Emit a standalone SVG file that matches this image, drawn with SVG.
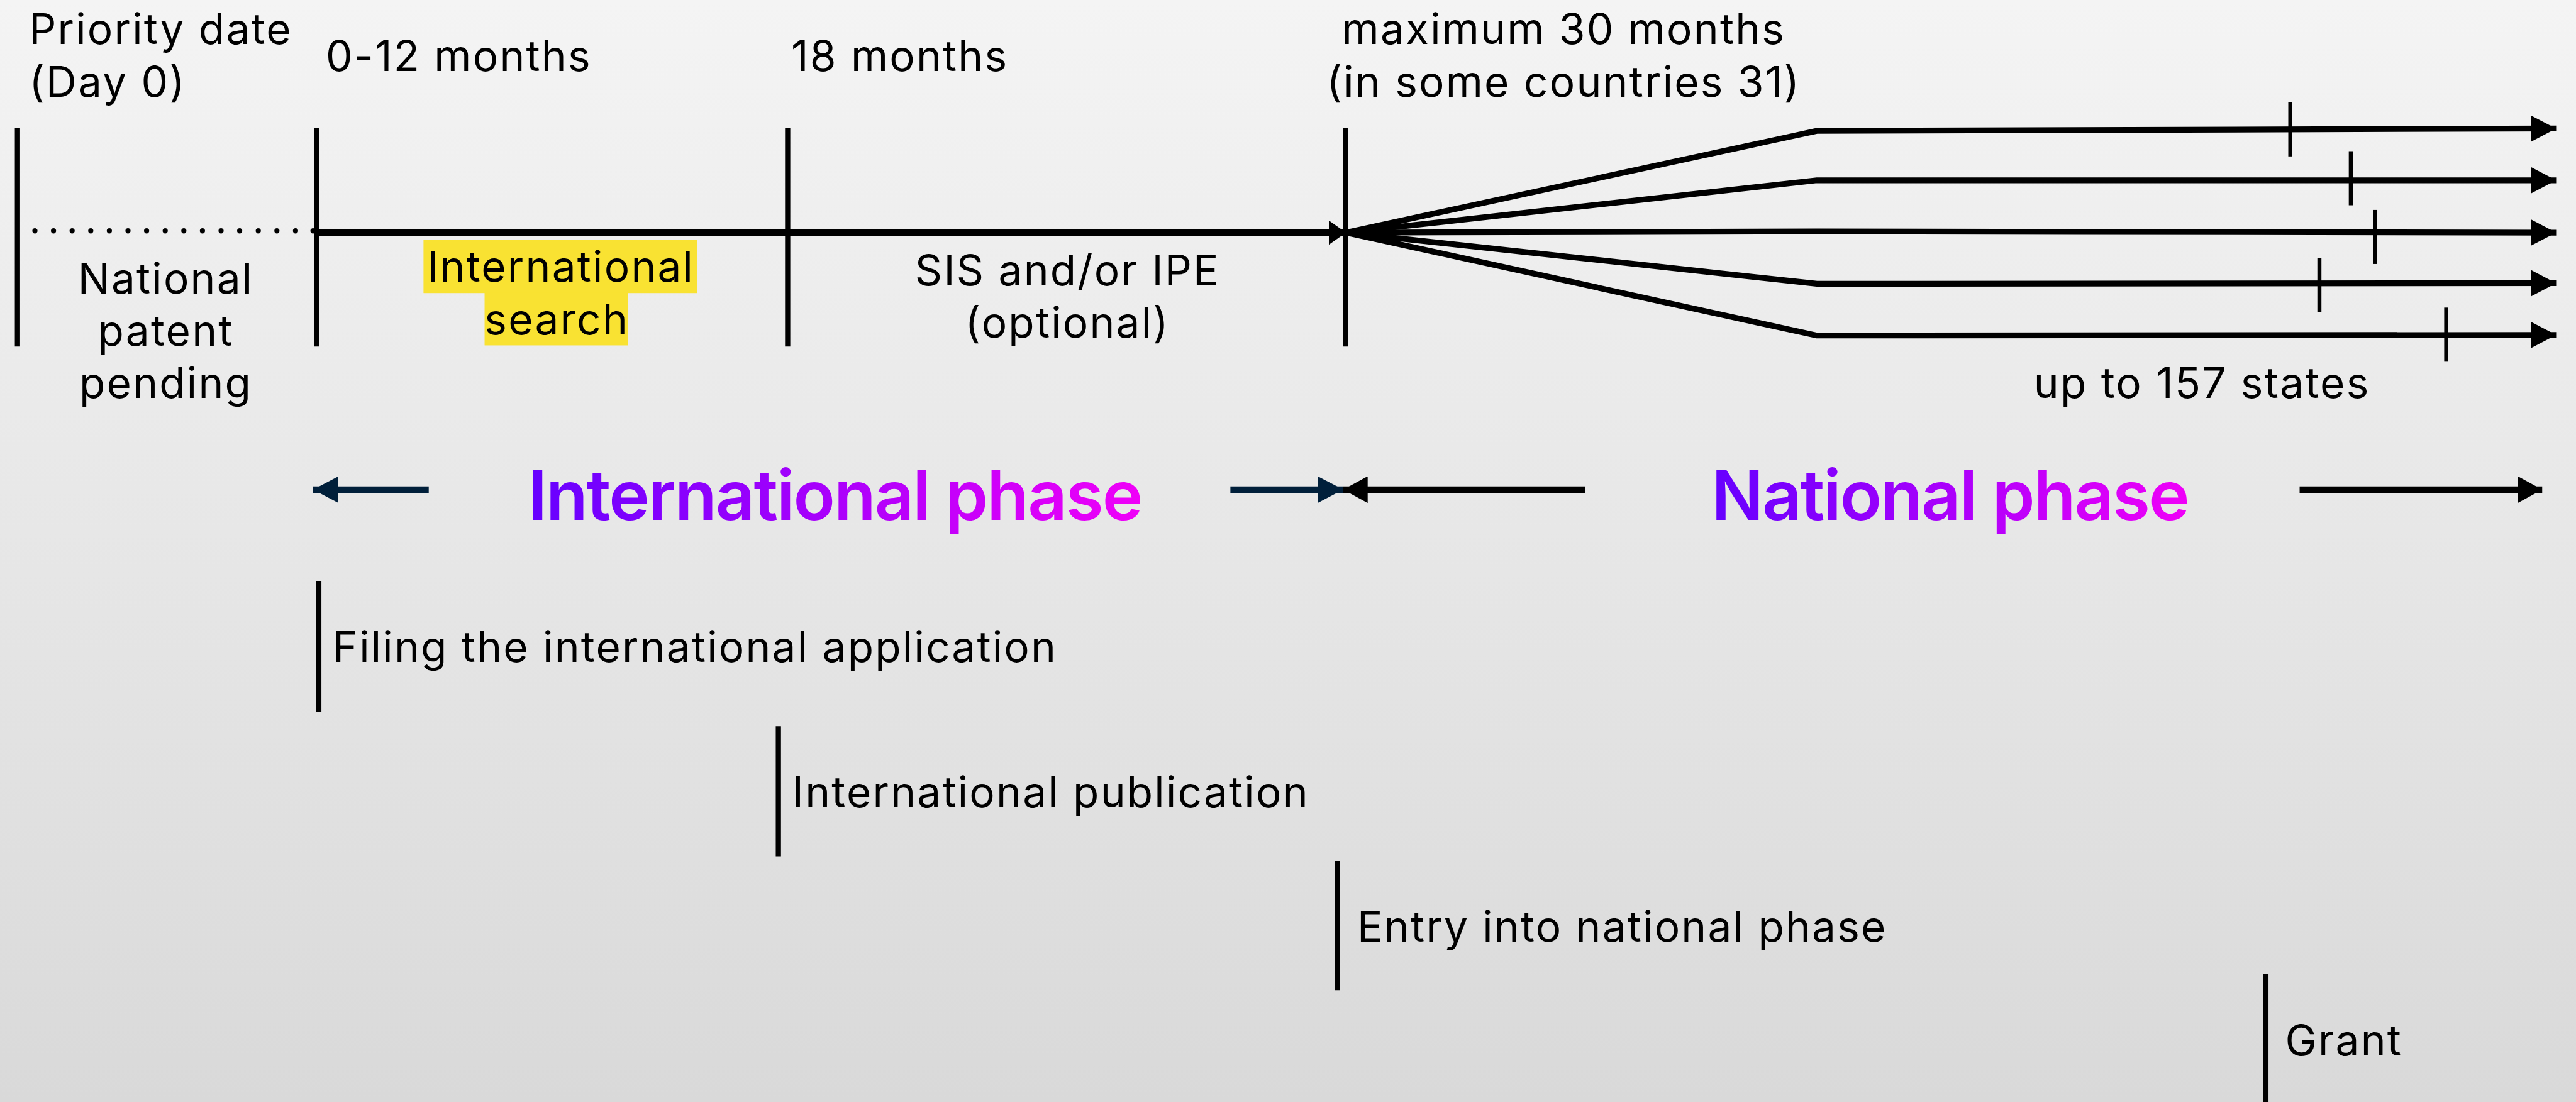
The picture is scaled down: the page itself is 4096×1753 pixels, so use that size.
<svg xmlns="http://www.w3.org/2000/svg" width="4096" height="1753" viewBox="0 0 4096 1753">
<defs>
<linearGradient id="bg" x1="0" y1="0" x2="0" y2="1">
<stop offset="0" stop-color="#F4F4F4"/>
<stop offset="1" stop-color="#D9D9D9"/>
</linearGradient>
<linearGradient id="phase" x1="0" y1="0" x2="1" y2="0">
<stop offset="0" stop-color="#6600FF"/>
<stop offset="1" stop-color="#F000F8"/>
</linearGradient>
<marker id="headB" viewBox="0 0 44 46" refX="44" refY="23" markerWidth="44" markerHeight="46" markerUnits="userSpaceOnUse" orient="auto">
<path d="M0,0 L44,23 L0,46 Z" fill="#000"/>
</marker>
<marker id="headS" viewBox="0 0 30 42" refX="30" refY="21" markerWidth="30" markerHeight="42" markerUnits="userSpaceOnUse" orient="auto">
<path d="M0,0 L30,21 L0,42 Z" fill="#000"/>
</marker>
<marker id="headN" viewBox="0 0 44 46" refX="44" refY="23" markerWidth="44" markerHeight="46" markerUnits="userSpaceOnUse" orient="auto-start-reverse">
<path d="M0,0 L44,23 L0,46 Z" fill="#001F3A"/>
</marker>
<marker id="headNB" viewBox="0 0 42 46" refX="42" refY="23" markerWidth="42" markerHeight="46" markerUnits="userSpaceOnUse" orient="auto-start-reverse">
<path d="M0,0 L42,23 L0,46 Z" fill="#000"/>
</marker>
</defs>
<style>
.t{font-family:Inter,"Liberation Sans",sans-serif;font-size:73px;letter-spacing:2.4px;fill:#000}
.c{text-anchor:middle}
.ph{font-family:Inter,"Liberation Sans",sans-serif;font-size:118px;font-weight:600;letter-spacing:-2.2px;fill:url(#phase)}
.ln{stroke:#000;stroke-width:9;fill:none}
.thick{stroke:#000;stroke-width:10;fill:none}
.tick{stroke:#000;stroke-width:7;fill:none}
.nav{stroke:#001F3A;stroke-width:11;fill:none}
.blk{stroke:#000;stroke-width:11;fill:none}
</style>
<rect x="0" y="0" width="4096" height="1753" fill="url(#bg)"/>
<g transform="scale(0.925)">
<g id="timeline-markers">
<line class="ln" x1="30" y1="220" x2="30" y2="596"/>
<line class="ln" x1="544" y1="220" x2="544" y2="596"/>
<line class="ln" x1="1354" y1="220" x2="1354" y2="596"/>
<line class="ln" x1="2313" y1="220" x2="2313" y2="596"/>
</g>
<g id="connectors">
<g fill="#000">
<circle cx="60" cy="397" r="4.5"/><circle cx="92" cy="397" r="4.5"/><circle cx="124" cy="397" r="4.5"/><circle cx="156" cy="397" r="4.5"/><circle cx="188" cy="397" r="4.5"/><circle cx="220" cy="397" r="4.5"/><circle cx="252" cy="397" r="4.5"/><circle cx="284" cy="397" r="4.5"/><circle cx="316" cy="397" r="4.5"/><circle cx="348" cy="397" r="4.5"/><circle cx="380" cy="397" r="4.5"/><circle cx="412" cy="397" r="4.5"/><circle cx="444" cy="397" r="4.5"/><circle cx="476" cy="397" r="4.5"/><circle cx="508" cy="397" r="4.5"/><circle cx="538" cy="397" r="4.5"/>
</g>
<line class="blk" x1="544" y1="400" x2="2314" y2="400" marker-end="url(#headS)"/>
<polyline class="thick" points="2314,400 3123,225 4394,221" marker-end="url(#headB)"/>
<polyline class="thick" points="2314,400 3123,310 4394,310" marker-end="url(#headB)"/>
<polyline class="thick" points="2314,400 3123,398 4394,400" marker-end="url(#headB)"/>
<polyline class="thick" points="2314,400 3123,488 4394,487" marker-end="url(#headB)"/>
<polyline class="thick" points="2314,400 3123,577 4394,576" marker-end="url(#headB)"/>
<line class="tick" x1="3937" y1="176" x2="3937" y2="269"/>
<line class="tick" x1="4041" y1="260" x2="4041" y2="353"/>
<line class="tick" x1="4083" y1="361" x2="4083" y2="454"/>
<line class="tick" x1="3987" y1="444" x2="3987" y2="537"/>
<line class="tick" x1="4205" y1="529" x2="4205" y2="622"/>
<line class="nav" x1="737" y1="842" x2="538" y2="842" marker-end="url(#headN)"/>
<line class="nav" x1="2115" y1="842" x2="2309" y2="842" marker-end="url(#headN)"/>
<line class="blk" x1="2725" y1="842" x2="2309" y2="842" marker-end="url(#headNB)"/>
<line class="blk" x1="3953" y1="842" x2="4370" y2="842" marker-end="url(#headNB)"/>
</g>
<g id="header-labels">
<text class="t" x="50" y="76">Priority date</text>
<text class="t" x="50" y="166">(Day 0)</text>
<text class="t" x="560" y="122">0-12 months</text>
<text class="t" x="1360" y="122">18 months</text>
<text class="t c" x="2688" y="76">maximum 30 months</text>
<text class="t c" x="2688" y="166">(in some countries 31)</text>
</g>
<g id="national-pending">
<text class="t c" x="285" y="505">National</text>
<text class="t c" x="285" y="595">patent</text>
<text class="t c" x="285" y="684">pending</text>
</g>
<g id="international-search">
<rect x="728" y="412" width="470" height="92" fill="#F9E232"/>
<rect x="833" y="503" width="246" height="91" fill="#F9E232"/>
<text class="t c" x="964" y="484">International</text>
<text class="t c" x="957" y="575">search</text>
</g>
<g id="sis-ipe">
<text class="t c" x="1835" y="491">SIS and/or IPE</text>
<text class="t c" x="1835" y="581">(optional)</text>
</g>
<g id="states">
<text class="t c" x="3785" y="684">up to 157 states</text>
</g>
<g id="phases">
<text class="ph" x="908" y="894">International phase</text>
<text class="ph" x="2942" y="894">National phase</text>
</g>
<g id="milestone-filing">
<line class="ln" x1="548" y1="1000" x2="548" y2="1224"/>
<text class="t" x="572" y="1138">Filing the international application</text>
</g>
<g id="milestone-publication">
<line class="ln" x1="1338" y1="1249" x2="1338" y2="1473"/>
<text class="t" x="1362" y="1388">International publication</text>
</g>
<g id="milestone-entry">
<line class="ln" x1="2299" y1="1480" x2="2299" y2="1703"/>
<text class="t" x="2333" y="1619">Entry into national phase</text>
</g>
<g id="milestone-grant">
<line class="ln" x1="3895" y1="1675" x2="3895" y2="1900"/>
<text class="t" x="3928" y="1815">Grant</text>
</g>
</g>
</svg>
